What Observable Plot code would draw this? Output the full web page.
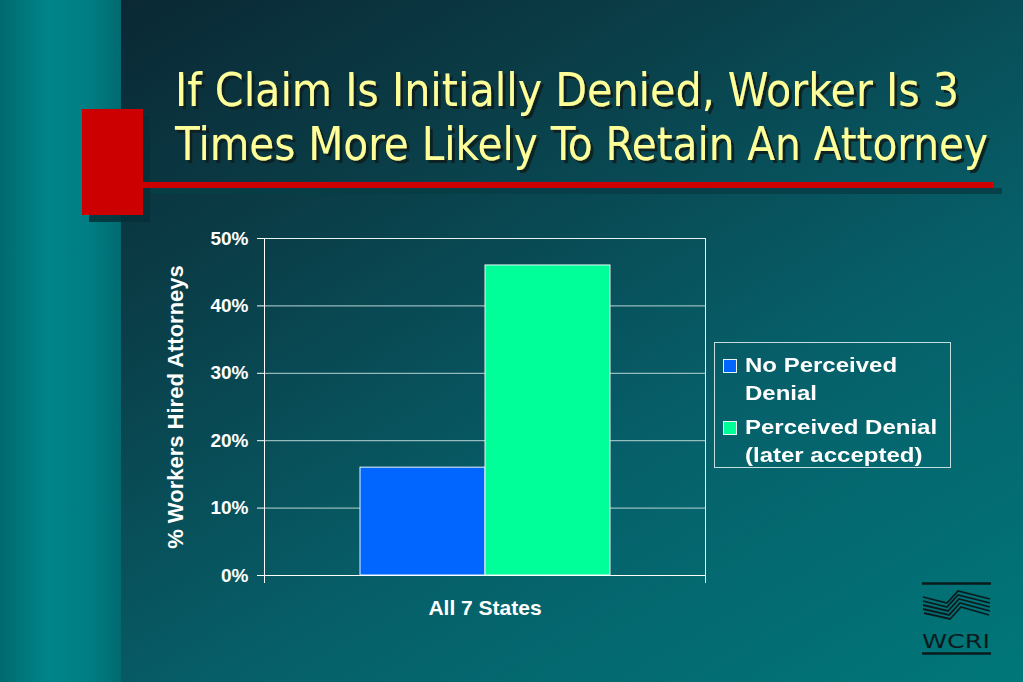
<!DOCTYPE html>
<html>
<head>
<meta charset="utf-8">
<script src="https://cdn.jsdelivr.net/npm/d3@7"></script>
<script src="https://cdn.jsdelivr.net/npm/@observablehq/plot@0.6"></script>
<style>
  html, body { margin: 0; padding: 0; }
  #page { position: relative; width: 1023px; height: 682px; overflow: hidden;
    background: linear-gradient(150deg, #0a2430 0%, #0a3d47 30%, #06606a 65%, #007779 100%); }
  #strip { position: absolute; left: 0; top: 0; width: 121px; height: 682px;
    background: linear-gradient(90deg, #006a6e 0%, #00858a 40%, #007d82 75%, #006a70 100%); }
  .abs { position: absolute; left: 0; top: 0; }
  #legend { position: absolute; left: 714px; top: 342px; width: 237px; height: 126px;
    border: 1px solid #c6dddd; box-sizing: border-box; color: white;
    font-family: "Liberation Sans", Arial, sans-serif; font-weight: bold; font-size: 20px; }
  .item { position: absolute; left: 8px; }
  .sw { position: absolute; left: 0; top: 4px; width: 12px; height: 12px; border: 1px solid #e8f4f4; }
  .lbl { position: absolute; left: 22px; top: -4px; line-height: 28px; white-space: nowrap;
    transform: scaleX(1.2); transform-origin: 0 0; }
</style>
</head>
<body>
<div id="page">
  <div id="strip"></div>
  <svg id="deco" class="abs" width="1023" height="682">
    <defs>
      <filter id="tshadow" x="-5%" y="-20%" width="110%" height="150%">
        <feDropShadow dx="3" dy="3" stdDeviation="0.6" flood-color="#081c1f" flood-opacity="0.9"></feDropShadow>
      </filter>
    </defs>
    <rect x="89" y="116" width="61" height="106" fill="#063038" opacity="0.85"></rect>
    <rect x="150" y="188" width="852" height="6" fill="#073e46" opacity="0.9"></rect>
    <rect x="82" y="109" width="61" height="106" fill="#cc0000"></rect>
    <rect x="143" y="182" width="850" height="6" fill="#cc0000"></rect>
    <g id="title" font-family="'DejaVu Sans Condensed', 'DejaVu Sans', sans-serif" font-size="46" filter="url(#tshadow)"></g>
  </svg>
  <div id="chart" class="abs"></div>
  <div id="legend"></div>
  <svg id="logo" class="abs" width="1023" height="682">
    <g stroke="#0b1b1d" fill="none">
      <line x1="922" y1="583.5" x2="991" y2="583.5" stroke-width="2.5"></line>
      <line x1="922" y1="653.5" x2="991" y2="653.5" stroke-width="2.5"></line>
      <g stroke-width="1.8">
        <path d="M923,597 L947,603 L958,591 L990,599"></path>
        <path d="M923,601 L947,607 L958,595 L990,603"></path>
        <path d="M923,605 L948,611 L959,599 L990,607"></path>
        <path d="M923,609 L949,615 L960,603 L990,611"></path>
        <path d="M924,613 L950,619 L961,607 L989,615"></path>
      </g>
    </g>
    <text x="956" y="648" text-anchor="middle" font-family="'DejaVu Sans', sans-serif" font-size="20" fill="#0b1b1d" textLength="68" lengthAdjust="spacingAndGlyphs">WCRI</text>
  </svg>
</div>
<script>
// ---- data ----
const titleLines = ["If Claim Is Initially Denied, Worker Is 3", "Times More Likely To Retain An Attorney"];
const states = ["All 7 States"];
const series = ["No Perceived Denial", "Perceived Denial (later accepted)"];
const legendLines = [["No Perceived", "Denial"], ["Perceived Denial", "(later accepted)"]];
const values = [0.16, 0.46];
const colors = ["#0066FF", "#00FF99"];
const yTicks = [0, 0.1, 0.2, 0.3, 0.4, 0.5];
const yLabel = "% Workers Hired Attorneys";

// ---- title ----
const titleG = d3.select("#title");
const titleY = [106, 160];
const titleLen = [784, 813];
titleLines.forEach((t, i) => {
  titleG.append("text").attr("x", 175).attr("y", titleY[i]).attr("fill", "#FFFF99")
    .attr("textLength", titleLen[i]).attr("lengthAdjust", "spacingAndGlyphs").text(t);
});

// ---- chart ----
const data = series.map((s, i) => ({state: states[0], series: s, value: values[i]}));

const chart = Plot.plot({
  width: 1023,
  height: 682,
  marginLeft: 264,
  marginRight: 318,
  marginTop: 238,
  marginBottom: 107,
  style: {background: "transparent", color: "white", fontFamily: "'Liberation Sans', Arial, sans-serif", fontWeight: "bold", overflow: "visible"},
  fx: {domain: states, padding: 0, label: null},
  x: {domain: series, paddingInner: 0, paddingOuter: 0.757, axis: null},
  y: {domain: [0, 0.5], label: null},
  color: {domain: series, range: colors},
  marks: [
    Plot.gridY(yTicks, {stroke: "#b9d4d4", strokeOpacity: 1}),
    Plot.barY(data, {fx: "state", x: "series", y: "value", fill: "series", stroke: "#eaf6f6", strokeWidth: 1}),
    Plot.frame({anchor: "left", stroke: "white", insetBottom: -7}),
    Plot.frame({anchor: "right", stroke: "#e6f2f2", insetBottom: -7}),
    Plot.ruleY([0], {stroke: "white"}),
    Plot.ruleY([0.5], {stroke: "#e6f2f2"}),
    Plot.axisY({ticks: yTicks, tickFormat: d3.format(".0%"), tickSize: 7, tickPadding: 9, fontSize: 19, label: null}),
    Plot.axisY({ticks: [], label: yLabel, labelAnchor: "center", labelArrow: "none", labelOffset: 97, fontSize: 22}),
    Plot.axisFx({anchor: "bottom", tickSize: 0, tickPadding: 25, fontSize: 21, label: null})
  ]
});
document.getElementById("chart").appendChild(chart);

// ---- legend ----
const legend = d3.select("#legend");
const itemTop = [12, 74];
series.forEach((s, i) => {
  const it = legend.append("div").attr("class", "item").style("top", itemTop[i] + "px");
  it.append("div").attr("class", "sw").style("background", colors[i]);
  it.append("div").attr("class", "lbl").html(legendLines[i].join("<br>"));
});
</script>
</body>
</html>
